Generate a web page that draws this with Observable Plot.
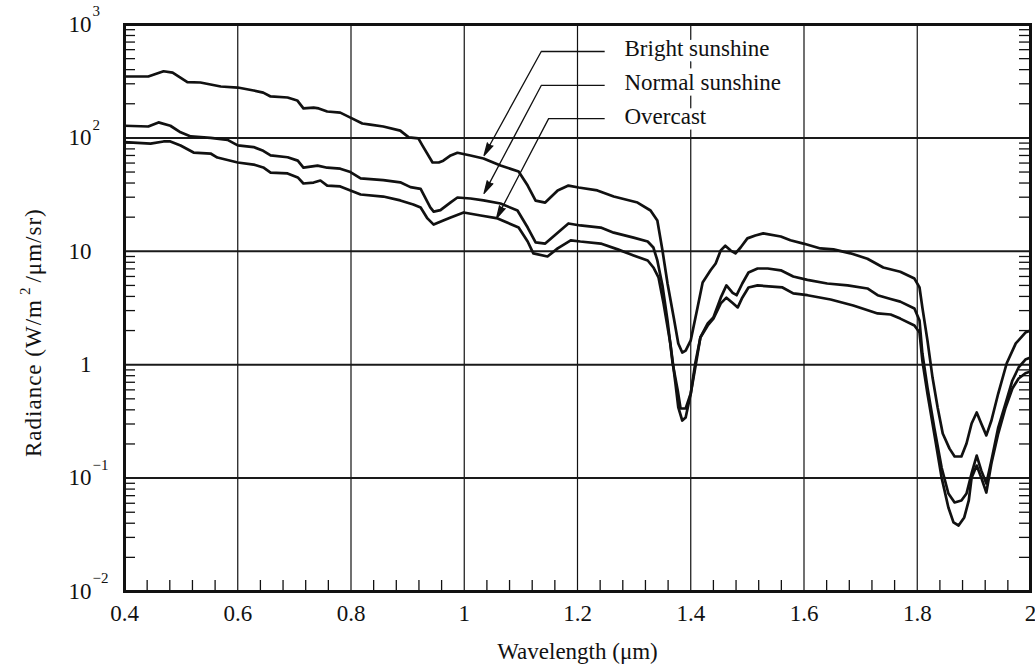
<!DOCTYPE html>
<html><head><meta charset="utf-8">
<script src="https://cdn.jsdelivr.net/npm/d3@7"></script>
<script src="https://cdn.jsdelivr.net/npm/@observablehq/plot@0.6"></script>
<style>
html,body{margin:0;padding:0;background:#fff;}
#chart{width:1035px;height:670px;}
#chart svg, #chart svg text, #chart svg tspan{font-family:"Liberation Serif","Times New Roman",Times,serif !important;}
</style></head><body><div id="chart"></div>
<script>
// ---- data ----
const seriesNames = ["Bright sunshine", "Normal sunshine", "Overcast"];

const brightWl = [0.40,0.442,0.469,0.485,0.511,0.534,0.552,0.570,0.600,0.628,0.645,0.658,0.688,0.705,0.716,0.734,0.743,0.758,0.781,0.799,0.820,0.834,0.857,0.887,0.902,0.919,0.926,0.944,0.955,0.963,0.976,0.988,1.011,1.034,1.064,1.096,1.112,1.126,1.143,1.165,1.184,1.202,1.235,1.264,1.306,1.329,1.341,1.350,1.359,1.370,1.378,1.385,1.391,1.400,1.412,1.421,1.435,1.444,1.453,1.461,1.470,1.479,1.488,1.500,1.514,1.528,1.559,1.576,1.599,1.629,1.652,1.682,1.712,1.740,1.770,1.795,1.804,1.809,1.818,1.827,1.836,1.845,1.857,1.866,1.878,1.887,1.896,1.905,1.913,1.922,1.931,1.943,1.958,1.974,1.991,2.0];
const brightRad = [348,348,387,377,310,308,296,284,278,262,251,232,227,214,182,185,182,171,167,151,134,131,126,116,101,99,86,60.7,60.7,63,70,74,70,65.8,57,50.6,38,28,26.9,34.4,38,36.5,34.4,30.4,26.9,22.9,18.7,10.2,5.2,2.6,1.54,1.28,1.33,1.64,3.2,5.3,6.8,7.8,10.2,11.2,10.2,9.6,10.8,13,13.8,14.4,13.5,12.5,11.7,10.6,10.4,9.6,8.6,7.2,6.6,5.75,4.8,3.2,1.64,0.77,0.42,0.247,0.182,0.155,0.155,0.202,0.303,0.379,0.303,0.238,0.322,0.557,1.03,1.54,1.92,2.0];

const normalWl = [0.40,0.442,0.460,0.481,0.499,0.517,0.552,0.582,0.600,0.628,0.645,0.658,0.688,0.706,0.716,0.741,0.758,0.781,0.799,0.817,0.857,0.887,0.905,0.923,0.940,0.946,0.958,0.976,0.988,1.011,1.034,1.064,1.094,1.112,1.126,1.143,1.165,1.184,1.205,1.241,1.264,1.299,1.324,1.334,1.341,1.350,1.359,1.368,1.377,1.382,1.391,1.400,1.408,1.417,1.430,1.440,1.453,1.463,1.474,1.481,1.491,1.502,1.518,1.536,1.559,1.581,1.606,1.641,1.677,1.712,1.730,1.753,1.770,1.795,1.804,1.809,1.818,1.830,1.843,1.855,1.866,1.878,1.887,1.896,1.905,1.913,1.922,1.931,1.943,1.956,1.968,1.979,1.991,2.0];
const normalRad = [128,126,137,128,112,103,100,96,86,83,77,70,67.5,63,54.6,57,54.6,53.5,50,44,42.5,40.6,36.8,35.5,24.4,22.4,23.1,27,29.8,29.2,28.1,26.4,22.9,16.2,12.0,11.7,14.6,17.6,16.9,16.2,14.6,13.2,12.2,10.8,8.3,5.0,2.45,1.03,0.593,0.411,0.411,0.557,0.945,1.74,2.31,2.61,3.9,5.0,4.3,4.1,5.2,6.5,7.05,7.05,6.8,6.0,5.6,5.2,5.0,4.7,4.1,3.8,3.6,3.13,2.45,1.26,0.63,0.279,0.124,0.0731,0.061,0.0635,0.0731,0.110,0.158,0.117,0.0896,0.143,0.279,0.455,0.726,0.945,1.11,1.16];

const overcastWl = [0.40,0.446,0.469,0.481,0.499,0.522,0.552,0.564,0.600,0.628,0.645,0.658,0.688,0.706,0.716,0.734,0.746,0.758,0.781,0.799,0.817,0.857,0.887,0.910,0.923,0.935,0.946,0.963,0.976,0.999,1.029,1.059,1.096,1.112,1.122,1.147,1.165,1.188,1.205,1.241,1.271,1.299,1.324,1.334,1.343,1.352,1.364,1.373,1.378,1.385,1.391,1.400,1.408,1.417,1.430,1.440,1.453,1.463,1.474,1.483,1.491,1.502,1.518,1.562,1.581,1.606,1.647,1.687,1.730,1.753,1.770,1.795,1.804,1.809,1.818,1.830,1.843,1.855,1.864,1.873,1.883,1.891,1.896,1.905,1.913,1.922,1.931,1.943,1.956,1.968,1.979,1.991,2.0];
const overcastRad = [91.6,89,93,93,85.7,74.3,72.8,67.1,60.7,58.2,54.9,49.5,48.6,44.8,39.6,40.4,42.1,38.0,37.3,34.4,31.7,30.4,28.1,25.9,24.3,19.5,17.2,18.7,19.9,22.0,20.7,19.5,16.2,12.2,9.6,9.0,10.6,12.5,12.2,11.7,10.4,9.2,8.3,7.2,5.9,3.47,1.54,0.683,0.42,0.322,0.342,0.557,1.03,1.74,2.22,2.55,3.47,3.9,3.5,3.2,3.9,4.8,5.0,4.8,4.25,4.1,3.76,3.33,2.83,2.77,2.55,2.22,1.92,1.09,0.557,0.247,0.101,0.055,0.0407,0.0382,0.045,0.0635,0.101,0.129,0.101,0.0746,0.135,0.247,0.42,0.617,0.755,0.84,0.87];

// ticks and labels
const xTicks = [0.4,0.6,0.8,1.0,1.2,1.4,1.6,1.8,2.0];
const xGrid = [0.6,0.8,1.0,1.2,1.4,1.6,1.8];
const yTickValues = [0.01,0.1,1,10,100,1000];
const yTickBase = ["10","10","1","10","10","10"];
const yTickExp = ["\u22122","\u22121","","","2","3"];
const yGrid = [0.1,1,10,100];
const xLabel = "Wavelength (\u03bcm)";
const yLabel = "Radiance (W/m\u00b2/\u03bcm/sr)";

// legend annotation (text anchor and leader: elbow + arrow tip, in data units)
const annText = [608, 308, 154];
const annElbowX = [1.136, 1.136, 1.149];
const annElbowY = [578, 290, 148];
const annTipX = [1.035, 1.035, 1.057];
const annTipY = [70, 32.4, 19.5];

// ---- build ----
const rowsOf = (name, wl, rad) => wl.map((w, i) => ({series: name, w, r: rad[i]}));
const rows = [
  ...rowsOf(seriesNames[0], brightWl, brightRad),
  ...rowsOf(seriesNames[1], normalWl, normalRad),
  ...rowsOf(seriesNames[2], overcastWl, overcastRad)
];
const ann = seriesNames.map((name, i) => ({
  name, ty: annText[i], ex: annElbowX[i], ey: annElbowY[i], tx: annTipX[i], tyTip: annTipY[i]
}));
const yLab = yTickValues.map((v, i) => ({v, base: yTickBase[i], exp: yTickExp[i]}));
const xMinor = d3.range(0, 41).map(i => +(0.4 + i * 0.04).toFixed(2)).filter(v => Math.round(v * 100) % 20 !== 0);
const yMinor = [0.01, 0.1, 1, 10, 100].flatMap(d => [2,3,4,5,6,7,8,9].map(k => k * d));

const W = 1035, H = 670, mL = 124, mR = 5, mT = 24, mB = 79;
const plotW = W - mL - mR, plotH = H - mT - mB;
const FONT = '"Liberation Serif","Times New Roman",Times,serif';
const INK = "#111";
const textX = 1.283, startX = 1.248;

const chart = Plot.plot({
  width: W, height: H,
  marginLeft: mL, marginRight: mR, marginTop: mT, marginBottom: mB,
  style: "font-family: 'Liberation Serif', 'Times New Roman', serif; font-size: 23px; color: #111; background: #fff; overflow: visible;",
  x: {domain: [0.4, 2.0], axis: null},
  y: {type: "log", domain: [0.01, 1000], axis: null},
  marks: [
    Plot.ruleX(xGrid, {stroke: INK, strokeWidth: 1.2}),
    Plot.ruleY(yGrid, {stroke: "#1a1a1a", strokeWidth: 2}),
    Plot.ruleX(xMinor, {insetTop: plotH - 11, stroke: INK, strokeWidth: 1.3}),
    Plot.ruleY(yMinor, {insetRight: plotW - 11, stroke: INK, strokeWidth: 1.3}),
    Plot.ruleY(yMinor, {insetLeft: plotW - 11, stroke: INK, strokeWidth: 1.3}),
    // legend text with white halo
    Plot.text(ann, {x: () => textX, y: "ty", text: "name", textAnchor: "start", lineAnchor: "middle",
      fill: INK, stroke: "white", strokeWidth: 11, paintOrder: "stroke", fontSize: 23, fontFamily: FONT}),
    // curves
    Plot.line(rows, {x: "w", y: "r", z: "series", stroke: INK, strokeWidth: 2.7, strokeLinejoin: "round"}),
    // leaders
    Plot.link(ann, {x1: () => startX, y1: "ey", x2: "ex", y2: "ey", stroke: INK, strokeWidth: 1.3}),
    Plot.arrow(ann, {x1: "ex", y1: "ey", x2: "tx", y2: "tyTip", stroke: INK, fill: INK, strokeWidth: 1.3, headLength: 15, headAngle: 28}),
    // axis tick labels
    Plot.axisX(xTicks, {tickSize: 0, tickPadding: 13, label: null, fontSize: 23, fontFamily: FONT,
      tickFormat: d => String(+(+d).toFixed(1))}),
    Plot.text(yLab, {y: "v", text: "base", frameAnchor: "left", textAnchor: "end", lineAnchor: "middle", dx: -33, fontSize: 23, fontFamily: FONT}),
    Plot.text(yLab.filter(d => d.exp), {y: "v", text: "exp", frameAnchor: "left", textAnchor: "start", lineAnchor: "middle", dx: -32, dy: -13, fontSize: 15, fontFamily: FONT}),
    // axis titles
    Plot.text([xLabel], {text: d => d, frameAnchor: "bottom", textAnchor: "middle", lineAnchor: "bottom", dy: 67, fontSize: 23, fontFamily: FONT}),
    Plot.text([yLabel], {text: d => d, frameAnchor: "left", textAnchor: "start", lineAnchor: "bottom", rotate: -90, dx: -84, dy: 149, fontSize: 23, fontFamily: FONT}),
    Plot.frame({stroke: INK, strokeWidth: 3})
  ]
});

// real superscript for the y title
const ns = "http://www.w3.org/2000/svg";
const yt = [...chart.querySelectorAll("text")].find(e => e.textContent.startsWith("Radiance"));
if (yt) {
  const [a, b] = yt.textContent.split("\u00b2");
  yt.textContent = "";
  yt.setAttribute("letter-spacing", "1");
  const s1 = document.createElementNS(ns, "tspan"); s1.textContent = a;
  const s2 = document.createElementNS(ns, "tspan"); s2.textContent = "2";
  s2.setAttribute("font-size", "15"); s2.setAttribute("dy", "-11"); s2.setAttribute("dx", "4");
  const s3 = document.createElementNS(ns, "tspan"); s3.textContent = b;
  s3.setAttribute("dy", "11"); s3.setAttribute("dx", "4");
  yt.append(s1, s2, s3);
}
document.getElementById("chart").append(chart);
</script></body></html>
